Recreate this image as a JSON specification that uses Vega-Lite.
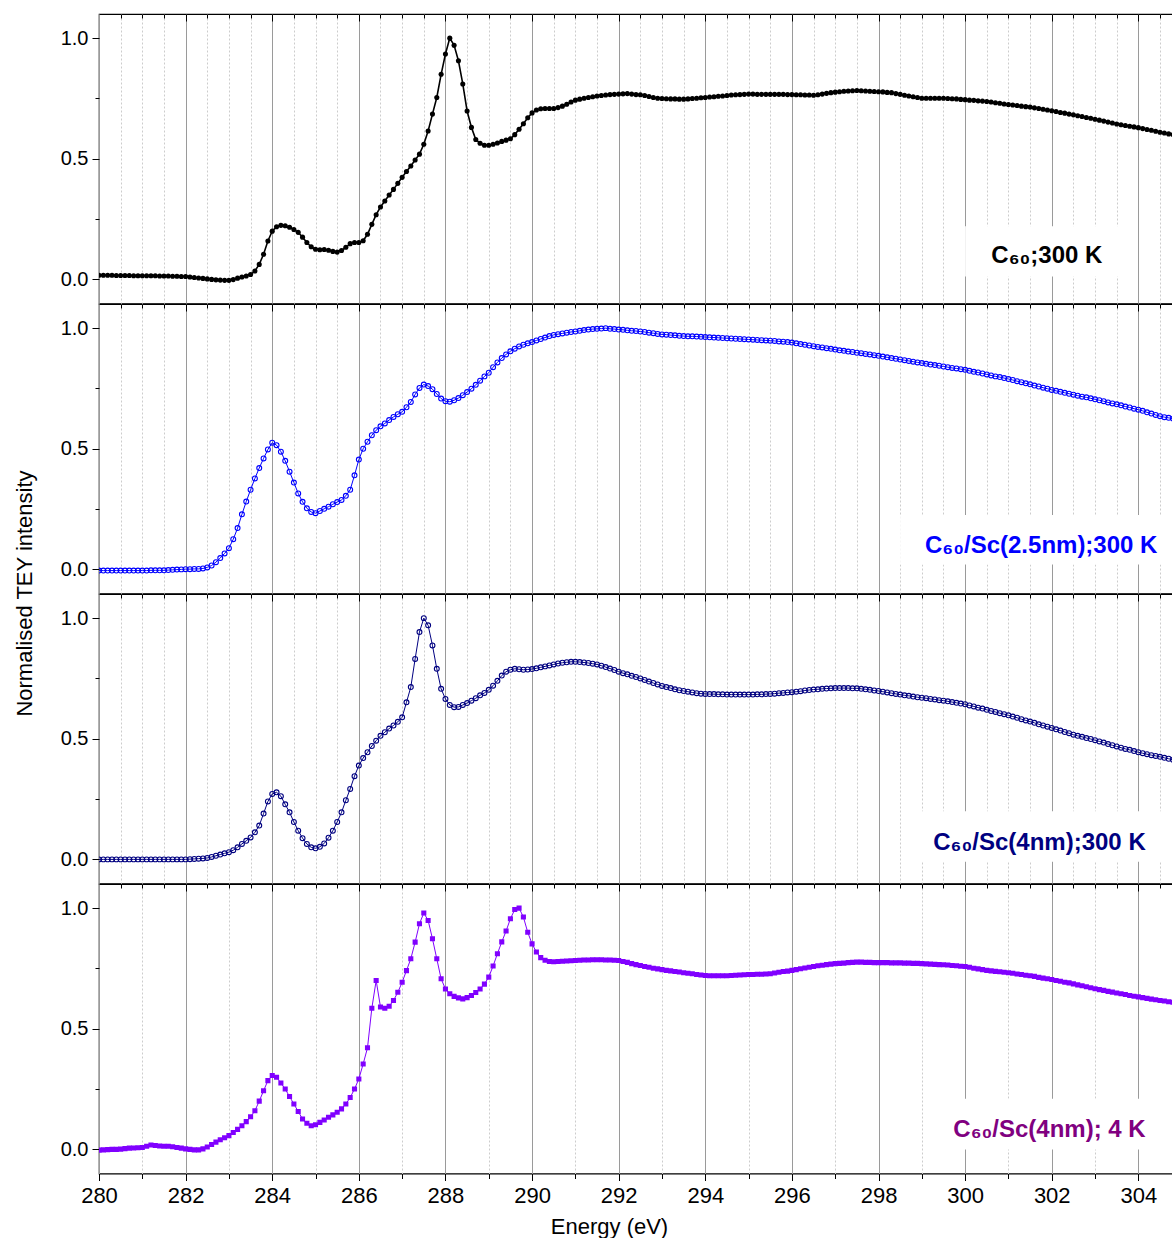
{
"$schema": "https://vega.github.io/schema/vega-lite/v6.json",
"background": "white",
"padding": {"left": 12, "top": 12, "right": 0, "bottom": 0},
"bounds": "flush",
"spacing": 0,
"config": {
  "font": "Liberation Sans",
  "view": {"stroke": "black", "strokeWidth": 1.2},
  "axis": {"labelFont": "Liberation Sans", "titleFont": "Liberation Sans", "labelColor": "black", "titleColor": "black", "titleFontWeight": "normal", "tickColor": "black"}
},
"data": {"values": [
{"e":280.0,"a":0.017,"b":-0.005,"c":0,"d":-0.003},
{"e":280.1,"a":0.017,"b":-0.005,"c":0,"d":-0.002},
{"e":280.2,"a":0.017,"b":-0.005,"c":0,"d":-0.001},
{"e":280.3,"a":0.017,"b":-0.005,"c":0,"d":0},
{"e":280.4,"a":0.016,"b":-0.005,"c":0,"d":0},
{"e":280.5,"a":0.016,"b":-0.005,"c":0,"d":0.001},
{"e":280.6,"a":0.016,"b":-0.005,"c":0,"d":0.003},
{"e":280.7,"a":0.016,"b":-0.005,"c":0,"d":0.005},
{"e":280.8,"a":0.015,"b":-0.005,"c":0,"d":0.006},
{"e":280.9,"a":0.015,"b":-0.005,"c":0,"d":0.007},
{"e":281.0,"a":0.015,"b":-0.005,"c":0,"d":0.008},
{"e":281.1,"a":0.015,"b":-0.005,"c":0,"d":0.013},
{"e":281.2,"a":0.015,"b":-0.004,"c":0,"d":0.018},
{"e":281.3,"a":0.015,"b":-0.004,"c":0,"d":0.016},
{"e":281.4,"a":0.014,"b":-0.004,"c":0,"d":0.014},
{"e":281.5,"a":0.014,"b":-0.004,"c":0,"d":0.013},
{"e":281.6,"a":0.014,"b":-0.003,"c":0,"d":0.013},
{"e":281.7,"a":0.013,"b":-0.002,"c":0,"d":0.011},
{"e":281.8,"a":0.013,"b":-0.001,"c":0,"d":0.008},
{"e":281.9,"a":0.012,"b":0,"c":0,"d":0.005},
{"e":282.0,"a":0.012,"b":0.001,"c":0,"d":0.002},
{"e":282.1,"a":0.010,"b":0.001,"c":0.001,"d":0},
{"e":282.2,"a":0.008,"b":0.002,"c":0.002,"d":-0.002},
{"e":282.3,"a":0.006,"b":0.002,"c":0.003,"d":-0.002},
{"e":282.4,"a":0.004,"b":0.004,"c":0.004,"d":0.002},
{"e":282.5,"a":0.002,"b":0.008,"c":0.006,"d":0.010},
{"e":282.6,"a":0.000,"b":0.016,"c":0.010,"d":0.020},
{"e":282.7,"a":-0.002,"b":0.030,"c":0.015,"d":0.030},
{"e":282.8,"a":-0.003,"b":0.047,"c":0.020,"d":0.040},
{"e":282.9,"a":-0.004,"b":0.066,"c":0.025,"d":0.048},
{"e":283.0,"a":-0.004,"b":0.088,"c":0.030,"d":0.057},
{"e":283.1,"a":-0.001,"b":0.125,"c":0.038,"d":0.070},
{"e":283.2,"a":0.005,"b":0.171,"c":0.050,"d":0.083},
{"e":283.3,"a":0.010,"b":0.228,"c":0.064,"d":0.098},
{"e":283.4,"a":0.014,"b":0.281,"c":0.077,"d":0.115},
{"e":283.5,"a":0.020,"b":0.330,"c":0.091,"d":0.135},
{"e":283.6,"a":0.035,"b":0.377,"c":0.112,"d":0.160},
{"e":283.7,"a":0.062,"b":0.420,"c":0.140,"d":0.200},
{"e":283.8,"a":0.104,"b":0.460,"c":0.190,"d":0.243},
{"e":283.9,"a":0.159,"b":0.497,"c":0.240,"d":0.285},
{"e":284.0,"a":0.200,"b":0.525,"c":0.271,"d":0.306},
{"e":284.1,"a":0.218,"b":0.515,"c":0.278,"d":0.299},
{"e":284.2,"a":0.224,"b":0.488,"c":0.262,"d":0.275},
{"e":284.3,"a":0.222,"b":0.450,"c":0.228,"d":0.250},
{"e":284.4,"a":0.216,"b":0.405,"c":0.195,"d":0.219},
{"e":284.5,"a":0.207,"b":0.360,"c":0.155,"d":0.188},
{"e":284.6,"a":0.195,"b":0.315,"c":0.119,"d":0.157},
{"e":284.7,"a":0.175,"b":0.280,"c":0.088,"d":0.126},
{"e":284.8,"a":0.153,"b":0.253,"c":0.064,"d":0.108},
{"e":284.9,"a":0.135,"b":0.238,"c":0.050,"d":0.098},
{"e":285.0,"a":0.125,"b":0.233,"c":0.046,"d":0.102},
{"e":285.1,"a":0.123,"b":0.242,"c":0.052,"d":0.112},
{"e":285.2,"a":0.124,"b":0.251,"c":0.066,"d":0.122},
{"e":285.3,"a":0.121,"b":0.260,"c":0.090,"d":0.133},
{"e":285.4,"a":0.116,"b":0.270,"c":0.119,"d":0.143},
{"e":285.5,"a":0.113,"b":0.279,"c":0.155,"d":0.154},
{"e":285.6,"a":0.120,"b":0.288,"c":0.195,"d":0.168},
{"e":285.7,"a":0.133,"b":0.305,"c":0.245,"d":0.188},
{"e":285.8,"a":0.148,"b":0.330,"c":0.292,"d":0.215},
{"e":285.9,"a":0.153,"b":0.390,"c":0.345,"d":0.250},
{"e":286.0,"a":0.153,"b":0.455,"c":0.389,"d":0.292},
{"e":286.1,"a":0.160,"b":0.500,"c":0.420,"d":0.354},
{"e":286.2,"a":0.187,"b":0.529,"c":0.444,"d":0.421},
{"e":286.3,"a":0.228,"b":0.556,"c":0.470,"d":0.585},
{"e":286.4,"a":0.268,"b":0.577,"c":0.492,"d":0.700},
{"e":286.5,"a":0.300,"b":0.593,"c":0.512,"d":0.590},
{"e":286.6,"a":0.325,"b":0.605,"c":0.527,"d":0.585},
{"e":286.7,"a":0.350,"b":0.619,"c":0.542,"d":0.593},
{"e":286.8,"a":0.373,"b":0.632,"c":0.555,"d":0.617},
{"e":286.9,"a":0.398,"b":0.643,"c":0.570,"d":0.651},
{"e":287.0,"a":0.423,"b":0.653,"c":0.589,"d":0.693},
{"e":287.1,"a":0.447,"b":0.672,"c":0.651,"d":0.741},
{"e":287.2,"a":0.470,"b":0.694,"c":0.714,"d":0.790},
{"e":287.3,"a":0.495,"b":0.725,"c":0.831,"d":0.859},
{"e":287.4,"a":0.519,"b":0.752,"c":0.942,"d":0.935},
{"e":287.5,"a":0.560,"b":0.766,"c":1.000,"d":0.980},
{"e":287.6,"a":0.615,"b":0.760,"c":0.970,"d":0.949},
{"e":287.7,"a":0.685,"b":0.747,"c":0.887,"d":0.873},
{"e":287.8,"a":0.754,"b":0.727,"c":0.790,"d":0.790},
{"e":287.9,"a":0.850,"b":0.708,"c":0.707,"d":0.707},
{"e":288.0,"a":0.934,"b":0.697,"c":0.665,"d":0.665},
{"e":288.1,"a":1.000,"b":0.695,"c":0.640,"d":0.645},
{"e":288.2,"a":0.970,"b":0.701,"c":0.631,"d":0.634},
{"e":288.3,"a":0.906,"b":0.710,"c":0.632,"d":0.628},
{"e":288.4,"a":0.810,"b":0.722,"c":0.640,"d":0.624},
{"e":288.5,"a":0.698,"b":0.735,"c":0.648,"d":0.629},
{"e":288.6,"a":0.630,"b":0.749,"c":0.658,"d":0.638},
{"e":288.7,"a":0.580,"b":0.765,"c":0.668,"d":0.650},
{"e":288.8,"a":0.564,"b":0.782,"c":0.680,"d":0.665},
{"e":288.9,"a":0.556,"b":0.800,"c":0.690,"d":0.685},
{"e":289.0,"a":0.556,"b":0.815,"c":0.703,"d":0.714},
{"e":289.1,"a":0.560,"b":0.838,"c":0.720,"d":0.760},
{"e":289.2,"a":0.565,"b":0.858,"c":0.740,"d":0.811},
{"e":289.3,"a":0.572,"b":0.876,"c":0.762,"d":0.860},
{"e":289.4,"a":0.577,"b":0.891,"c":0.778,"d":0.905},
{"e":289.5,"a":0.583,"b":0.904,"c":0.786,"d":0.956},
{"e":289.6,"a":0.600,"b":0.915,"c":0.790,"d":0.994},
{"e":289.7,"a":0.622,"b":0.924,"c":0.788,"d":1.000},
{"e":289.8,"a":0.645,"b":0.931,"c":0.786,"d":0.963},
{"e":289.9,"a":0.670,"b":0.937,"c":0.787,"d":0.900},
{"e":290.0,"a":0.690,"b":0.942,"c":0.789,"d":0.852},
{"e":290.1,"a":0.702,"b":0.949,"c":0.792,"d":0.818},
{"e":290.2,"a":0.707,"b":0.955,"c":0.796,"d":0.795},
{"e":290.3,"a":0.708,"b":0.961,"c":0.800,"d":0.784},
{"e":290.4,"a":0.708,"b":0.967,"c":0.804,"d":0.779},
{"e":290.5,"a":0.708,"b":0.972,"c":0.808,"d":0.778},
{"e":290.6,"a":0.712,"b":0.975,"c":0.812,"d":0.779},
{"e":290.7,"a":0.718,"b":0.978,"c":0.815,"d":0.780},
{"e":290.8,"a":0.726,"b":0.981,"c":0.817,"d":0.781},
{"e":290.9,"a":0.735,"b":0.984,"c":0.819,"d":0.782},
{"e":291.0,"a":0.743,"b":0.986,"c":0.819,"d":0.783},
{"e":291.1,"a":0.747,"b":0.989,"c":0.818,"d":0.784},
{"e":291.2,"a":0.751,"b":0.992,"c":0.816,"d":0.785},
{"e":291.3,"a":0.754,"b":0.994,"c":0.814,"d":0.785},
{"e":291.4,"a":0.757,"b":0.996,"c":0.811,"d":0.786},
{"e":291.5,"a":0.760,"b":0.997,"c":0.808,"d":0.786},
{"e":291.6,"a":0.762,"b":0.998,"c":0.803,"d":0.786},
{"e":291.7,"a":0.764,"b":1.000,"c":0.797,"d":0.785},
{"e":291.8,"a":0.766,"b":0.997,"c":0.791,"d":0.785},
{"e":291.9,"a":0.767,"b":0.996,"c":0.785,"d":0.784},
{"e":292.0,"a":0.768,"b":0.994,"c":0.778,"d":0.783},
{"e":292.1,"a":0.769,"b":0.993,"c":0.772,"d":0.779},
{"e":292.2,"a":0.770,"b":0.991,"c":0.767,"d":0.775},
{"e":292.3,"a":0.768,"b":0.989,"c":0.761,"d":0.770},
{"e":292.4,"a":0.766,"b":0.988,"c":0.756,"d":0.766},
{"e":292.5,"a":0.765,"b":0.986,"c":0.750,"d":0.762},
{"e":292.6,"a":0.762,"b":0.984,"c":0.744,"d":0.758},
{"e":292.7,"a":0.758,"b":0.981,"c":0.737,"d":0.755},
{"e":292.8,"a":0.754,"b":0.979,"c":0.731,"d":0.751},
{"e":292.9,"a":0.751,"b":0.976,"c":0.725,"d":0.748},
{"e":293.0,"a":0.750,"b":0.974,"c":0.719,"d":0.745},
{"e":293.1,"a":0.749,"b":0.973,"c":0.714,"d":0.742},
{"e":293.2,"a":0.748,"b":0.971,"c":0.710,"d":0.740},
{"e":293.3,"a":0.748,"b":0.970,"c":0.705,"d":0.737},
{"e":293.4,"a":0.747,"b":0.968,"c":0.701,"d":0.735},
{"e":293.5,"a":0.747,"b":0.967,"c":0.698,"d":0.732},
{"e":293.6,"a":0.748,"b":0.966,"c":0.695,"d":0.730},
{"e":293.7,"a":0.750,"b":0.966,"c":0.692,"d":0.728},
{"e":293.8,"a":0.751,"b":0.965,"c":0.689,"d":0.725},
{"e":293.9,"a":0.753,"b":0.964,"c":0.687,"d":0.723},
{"e":294.0,"a":0.754,"b":0.963,"c":0.686,"d":0.721},
{"e":294.1,"a":0.756,"b":0.962,"c":0.685,"d":0.720},
{"e":294.2,"a":0.757,"b":0.961,"c":0.685,"d":0.720},
{"e":294.3,"a":0.759,"b":0.960,"c":0.684,"d":0.720},
{"e":294.4,"a":0.760,"b":0.959,"c":0.684,"d":0.720},
{"e":294.5,"a":0.762,"b":0.958,"c":0.683,"d":0.720},
{"e":294.6,"a":0.764,"b":0.957,"c":0.683,"d":0.721},
{"e":294.7,"a":0.765,"b":0.956,"c":0.683,"d":0.722},
{"e":294.8,"a":0.766,"b":0.955,"c":0.683,"d":0.723},
{"e":294.9,"a":0.767,"b":0.954,"c":0.683,"d":0.724},
{"e":295.0,"a":0.768,"b":0.953,"c":0.683,"d":0.725},
{"e":295.1,"a":0.768,"b":0.952,"c":0.683,"d":0.725},
{"e":295.2,"a":0.767,"b":0.951,"c":0.684,"d":0.726},
{"e":295.3,"a":0.767,"b":0.950,"c":0.684,"d":0.726},
{"e":295.4,"a":0.767,"b":0.949,"c":0.685,"d":0.727},
{"e":295.5,"a":0.767,"b":0.948,"c":0.686,"d":0.728},
{"e":295.6,"a":0.767,"b":0.947,"c":0.687,"d":0.731},
{"e":295.7,"a":0.767,"b":0.945,"c":0.689,"d":0.734},
{"e":295.8,"a":0.767,"b":0.944,"c":0.690,"d":0.737},
{"e":295.9,"a":0.766,"b":0.942,"c":0.692,"d":0.739},
{"e":296.0,"a":0.766,"b":0.940,"c":0.693,"d":0.742},
{"e":296.1,"a":0.765,"b":0.937,"c":0.695,"d":0.745},
{"e":296.2,"a":0.765,"b":0.934,"c":0.697,"d":0.749},
{"e":296.3,"a":0.764,"b":0.931,"c":0.700,"d":0.752},
{"e":296.4,"a":0.764,"b":0.928,"c":0.702,"d":0.755},
{"e":296.5,"a":0.763,"b":0.925,"c":0.704,"d":0.758},
{"e":296.6,"a":0.765,"b":0.922,"c":0.705,"d":0.761},
{"e":296.7,"a":0.768,"b":0.920,"c":0.707,"d":0.763},
{"e":296.8,"a":0.771,"b":0.917,"c":0.708,"d":0.766},
{"e":296.9,"a":0.774,"b":0.914,"c":0.709,"d":0.768},
{"e":297.0,"a":0.776,"b":0.911,"c":0.710,"d":0.770},
{"e":297.1,"a":0.778,"b":0.908,"c":0.710,"d":0.771},
{"e":297.2,"a":0.780,"b":0.906,"c":0.710,"d":0.772},
{"e":297.3,"a":0.781,"b":0.903,"c":0.710,"d":0.774},
{"e":297.4,"a":0.782,"b":0.901,"c":0.709,"d":0.775},
{"e":297.5,"a":0.783,"b":0.898,"c":0.709,"d":0.776},
{"e":297.6,"a":0.782,"b":0.896,"c":0.707,"d":0.776},
{"e":297.7,"a":0.781,"b":0.893,"c":0.705,"d":0.775},
{"e":297.8,"a":0.780,"b":0.891,"c":0.703,"d":0.775},
{"e":297.9,"a":0.779,"b":0.888,"c":0.700,"d":0.774},
{"e":298.0,"a":0.778,"b":0.885,"c":0.698,"d":0.774},
{"e":298.1,"a":0.777,"b":0.882,"c":0.695,"d":0.774},
{"e":298.2,"a":0.775,"b":0.879,"c":0.692,"d":0.774},
{"e":298.3,"a":0.774,"b":0.876,"c":0.689,"d":0.773},
{"e":298.4,"a":0.770,"b":0.873,"c":0.686,"d":0.773},
{"e":298.5,"a":0.767,"b":0.870,"c":0.683,"d":0.773},
{"e":298.6,"a":0.763,"b":0.867,"c":0.680,"d":0.772},
{"e":298.7,"a":0.760,"b":0.864,"c":0.678,"d":0.772},
{"e":298.8,"a":0.757,"b":0.861,"c":0.675,"d":0.771},
{"e":298.9,"a":0.754,"b":0.858,"c":0.672,"d":0.771},
{"e":299.0,"a":0.751,"b":0.855,"c":0.670,"d":0.770},
{"e":299.1,"a":0.751,"b":0.852,"c":0.668,"d":0.769},
{"e":299.2,"a":0.751,"b":0.849,"c":0.665,"d":0.768},
{"e":299.3,"a":0.751,"b":0.847,"c":0.663,"d":0.767},
{"e":299.4,"a":0.751,"b":0.844,"c":0.660,"d":0.766},
{"e":299.5,"a":0.751,"b":0.841,"c":0.658,"d":0.765},
{"e":299.6,"a":0.750,"b":0.838,"c":0.655,"d":0.764},
{"e":299.7,"a":0.749,"b":0.835,"c":0.652,"d":0.762},
{"e":299.8,"a":0.748,"b":0.833,"c":0.649,"d":0.761},
{"e":299.9,"a":0.746,"b":0.830,"c":0.646,"d":0.759},
{"e":300.0,"a":0.745,"b":0.827,"c":0.643,"d":0.758},
{"e":300.1,"a":0.743,"b":0.823,"c":0.638,"d":0.755},
{"e":300.2,"a":0.742,"b":0.819,"c":0.634,"d":0.751},
{"e":300.3,"a":0.740,"b":0.816,"c":0.629,"d":0.748},
{"e":300.4,"a":0.739,"b":0.812,"c":0.625,"d":0.745},
{"e":300.5,"a":0.737,"b":0.808,"c":0.620,"d":0.742},
{"e":300.6,"a":0.735,"b":0.804,"c":0.615,"d":0.740},
{"e":300.7,"a":0.732,"b":0.800,"c":0.611,"d":0.738},
{"e":300.8,"a":0.730,"b":0.797,"c":0.606,"d":0.736},
{"e":300.9,"a":0.727,"b":0.793,"c":0.602,"d":0.734},
{"e":301.0,"a":0.725,"b":0.789,"c":0.597,"d":0.732},
{"e":301.1,"a":0.723,"b":0.785,"c":0.592,"d":0.730},
{"e":301.2,"a":0.721,"b":0.780,"c":0.587,"d":0.727},
{"e":301.3,"a":0.718,"b":0.776,"c":0.581,"d":0.725},
{"e":301.4,"a":0.716,"b":0.771,"c":0.576,"d":0.722},
{"e":301.5,"a":0.714,"b":0.767,"c":0.571,"d":0.720},
{"e":301.6,"a":0.711,"b":0.762,"c":0.566,"d":0.717},
{"e":301.7,"a":0.708,"b":0.758,"c":0.560,"d":0.713},
{"e":301.8,"a":0.705,"b":0.753,"c":0.555,"d":0.710},
{"e":301.9,"a":0.702,"b":0.749,"c":0.550,"d":0.707},
{"e":302.0,"a":0.699,"b":0.744,"c":0.545,"d":0.704},
{"e":302.1,"a":0.696,"b":0.740,"c":0.539,"d":0.700},
{"e":302.2,"a":0.692,"b":0.736,"c":0.534,"d":0.697},
{"e":302.3,"a":0.689,"b":0.732,"c":0.528,"d":0.693},
{"e":302.4,"a":0.685,"b":0.728,"c":0.523,"d":0.690},
{"e":302.5,"a":0.682,"b":0.724,"c":0.517,"d":0.686},
{"e":302.6,"a":0.678,"b":0.720,"c":0.512,"d":0.682},
{"e":302.7,"a":0.675,"b":0.716,"c":0.508,"d":0.678},
{"e":302.8,"a":0.671,"b":0.713,"c":0.503,"d":0.674},
{"e":302.9,"a":0.668,"b":0.709,"c":0.499,"d":0.670},
{"e":303.0,"a":0.664,"b":0.705,"c":0.494,"d":0.666},
{"e":303.1,"a":0.660,"b":0.701,"c":0.489,"d":0.662},
{"e":303.2,"a":0.656,"b":0.697,"c":0.484,"d":0.659},
{"e":303.3,"a":0.652,"b":0.692,"c":0.478,"d":0.655},
{"e":303.4,"a":0.648,"b":0.688,"c":0.473,"d":0.652},
{"e":303.5,"a":0.644,"b":0.684,"c":0.468,"d":0.648},
{"e":303.6,"a":0.641,"b":0.680,"c":0.463,"d":0.645},
{"e":303.7,"a":0.638,"b":0.675,"c":0.458,"d":0.642},
{"e":303.8,"a":0.635,"b":0.671,"c":0.454,"d":0.638},
{"e":303.9,"a":0.632,"b":0.666,"c":0.449,"d":0.635},
{"e":304.0,"a":0.629,"b":0.662,"c":0.444,"d":0.632},
{"e":304.1,"a":0.625,"b":0.657,"c":0.440,"d":0.629},
{"e":304.2,"a":0.621,"b":0.651,"c":0.436,"d":0.626},
{"e":304.3,"a":0.618,"b":0.646,"c":0.432,"d":0.623},
{"e":304.4,"a":0.614,"b":0.640,"c":0.429,"d":0.620},
{"e":304.5,"a":0.610,"b":0.635,"c":0.425,"d":0.617},
{"e":304.6,"a":0.607,"b":0.631,"c":0.421,"d":0.615},
{"e":304.7,"a":0.603,"b":0.628,"c":0.417,"d":0.612},
{"e":304.8,"a":0.600,"b":0.625,"c":0.413,"d":0.610}
]},
"vconcat": [
{
  "width": 1074, "height": 289.5,
  "resolve": {"axis": {"x": "independent"}},
  "layer": [
    {"data": {"values": [{}]}, "mark": {"type": "rect", "color": "white"},
     "encoding": {"x": {"datum": 300.0, "type": "quantitative", "axis": null}, "x2": {"datum": 303.6}, "y": {"datum": 0.012, "type": "quantitative"}, "y2": {"datum": 0.22}}},
    {"mark": {"type": "line", "color": "black", "strokeWidth": 1.6, "clip": true},
     "encoding": {
       "x": {"field": "e", "type": "quantitative", "scale": {"domain": [280, 304.8], "nice": false, "zero": false},
             "axis": {"orient": "bottom", "values": [280,280.5,281,281.5,282,282.5,283,283.5,284,284.5,285,285.5,286,286.5,287,287.5,288,288.5,289,289.5,290,290.5,291,291.5,292,292.5,293,293.5,294,294.5,295,295.5,296,296.5,297,297.5,298,298.5,299,299.5,300,300.5,301,301.5,302,302.5,303,303.5,304,304.5],
                      "grid": true, "gridColor": {"condition": {"test": "datum.value % 2 === 0", "value": "#9a9a9a"}, "value": "#cccccc"},
                      "gridDash": {"condition": {"test": "datum.value % 2 === 0", "value": []}, "value": [2, 2]},
                      "ticks": false, "labels": false, "domain": false, "title": null}},
       "y": {"field": "a", "type": "quantitative", "scale": {"domain": [-0.1, 1.1], "nice": false, "zero": false},
             "axis": {"orient": "left", "values": [0, 0.25, 0.5, 0.75, 1], "format": ".1f", "labelExpr": "datum.value * 4 % 2 === 0 ? datum.label : ''",
                      "tickSize": {"condition": {"test": "datum.value * 4 % 2 === 0", "value": 7}, "value": 4},
                      "labelPadding": 4, "labelFontSize": 20, "grid": false, "domain": false, "title": null}}
     }},
    {"mark": {"type": "point", "shape": "circle", "filled": true, "color": "black", "size": 26, "opacity": 1, "clip": true},
     "encoding": {
       "x": {"field": "e", "type": "quantitative",
             "axis": {"orient": "top", "values": [280.5,281,281.5,282,282.5,283,283.5,284,284.5,285,285.5,286,286.5,287,287.5,288,288.5,289,289.5,290,290.5,291,291.5,292,292.5,293,293.5,294,294.5,295,295.5,296,296.5,297,297.5,298,298.5,299,299.5,300,300.5,301,301.5,302,302.5,303,303.5,304,304.5],
                      "grid": false, "domain": false, "labels": false, "ticks": true,
                      "tickSize": {"condition": {"test": "datum.value % 2 === 0", "value": -7}, "value": -4}, "title": null}},
       "y": {"field": "a", "type": "quantitative"}
     }},
    {"data": {"values": [{}]}, "mark": {"type": "text", "text": "C₆₀;300 K", "align": "right", "baseline": "alphabetic", "fontSize": 24, "fontWeight": "bold", "color": "black"},
     "encoding": {"x": {"datum": 303.17, "type": "quantitative", "axis": null}, "y": {"datum": 0.066, "type": "quantitative"}}}
  ]
},
{
  "width": 1074, "height": 289.5,
  "resolve": {"axis": {"x": "independent"}},
  "layer": [
    {"data": {"values": [{}]}, "mark": {"type": "rect", "color": "white"},
     "encoding": {"x": {"datum": 298.5, "type": "quantitative", "axis": null}, "x2": {"datum": 304.8}, "y": {"datum": 0.02, "type": "quantitative"}, "y2": {"datum": 0.225}}},
    {"mark": {"type": "line", "color": "#0000ff", "strokeWidth": 1, "clip": true},
     "encoding": {
       "x": {"field": "e", "type": "quantitative", "scale": {"domain": [280, 304.8], "nice": false, "zero": false},
             "axis": {"orient": "bottom", "values": [280,280.5,281,281.5,282,282.5,283,283.5,284,284.5,285,285.5,286,286.5,287,287.5,288,288.5,289,289.5,290,290.5,291,291.5,292,292.5,293,293.5,294,294.5,295,295.5,296,296.5,297,297.5,298,298.5,299,299.5,300,300.5,301,301.5,302,302.5,303,303.5,304,304.5],
                      "grid": true, "gridColor": {"condition": {"test": "datum.value % 2 === 0", "value": "#9a9a9a"}, "value": "#cccccc"},
                      "gridDash": {"condition": {"test": "datum.value % 2 === 0", "value": []}, "value": [2, 2]},
                      "ticks": false, "labels": false, "domain": false, "title": null}},
       "y": {"field": "b", "type": "quantitative", "scale": {"domain": [-0.1, 1.1], "nice": false, "zero": false},
             "axis": {"orient": "left", "values": [0, 0.25, 0.5, 0.75, 1], "format": ".1f", "labelExpr": "datum.value * 4 % 2 === 0 ? datum.label : ''",
                      "tickSize": {"condition": {"test": "datum.value * 4 % 2 === 0", "value": 7}, "value": 4},
                      "labelPadding": 4, "labelFontSize": 20, "grid": false, "domain": false, "title": null}}
     }},
    {"mark": {"type": "point", "shape": "circle", "filled": false, "color": "#0000ff", "strokeWidth": 1.1, "size": 24, "opacity": 1, "clip": true},
     "encoding": {
       "x": {"field": "e", "type": "quantitative",
             "axis": {"orient": "top", "values": [280.5,281,281.5,282,282.5,283,283.5,284,284.5,285,285.5,286,286.5,287,287.5,288,288.5,289,289.5,290,290.5,291,291.5,292,292.5,293,293.5,294,294.5,295,295.5,296,296.5,297,297.5,298,298.5,299,299.5,300,300.5,301,301.5,302,302.5,303,303.5,304,304.5],
                      "grid": false, "domain": false, "labels": false, "ticks": true,
                      "tickSize": {"condition": {"test": "datum.value % 2 === 0", "value": -7}, "value": -4}, "title": null}},
       "y": {"field": "b", "type": "quantitative"}
     }},
    {"data": {"values": [{}]}, "mark": {"type": "text", "text": "C₆₀/Sc(2.5nm);300 K", "align": "right", "baseline": "alphabetic", "fontSize": 24, "fontWeight": "bold", "color": "#0000ff"},
     "encoding": {"x": {"datum": 304.44, "type": "quantitative", "axis": null}, "y": {"datum": 0.066, "type": "quantitative"}}}
  ]
},
{
  "width": 1074, "height": 289.5,
  "resolve": {"axis": {"x": "independent"}},
  "layer": [
    {"data": {"values": [{}]}, "mark": {"type": "rect", "color": "white"},
     "encoding": {"x": {"datum": 298.8, "type": "quantitative", "axis": null}, "x2": {"datum": 304.6}, "y": {"datum": -0.01, "type": "quantitative"}, "y2": {"datum": 0.2}}},
    {"mark": {"type": "line", "color": "#000080", "strokeWidth": 1, "clip": true},
     "encoding": {
       "x": {"field": "e", "type": "quantitative", "scale": {"domain": [280, 304.8], "nice": false, "zero": false},
             "axis": {"orient": "bottom", "values": [280,280.5,281,281.5,282,282.5,283,283.5,284,284.5,285,285.5,286,286.5,287,287.5,288,288.5,289,289.5,290,290.5,291,291.5,292,292.5,293,293.5,294,294.5,295,295.5,296,296.5,297,297.5,298,298.5,299,299.5,300,300.5,301,301.5,302,302.5,303,303.5,304,304.5],
                      "grid": true, "gridColor": {"condition": {"test": "datum.value % 2 === 0", "value": "#9a9a9a"}, "value": "#cccccc"},
                      "gridDash": {"condition": {"test": "datum.value % 2 === 0", "value": []}, "value": [2, 2]},
                      "ticks": false, "labels": false, "domain": false, "title": null}},
       "y": {"field": "c", "type": "quantitative", "scale": {"domain": [-0.1, 1.1], "nice": false, "zero": false},
             "axis": {"orient": "left", "values": [0, 0.25, 0.5, 0.75, 1], "format": ".1f", "labelExpr": "datum.value * 4 % 2 === 0 ? datum.label : ''",
                      "tickSize": {"condition": {"test": "datum.value * 4 % 2 === 0", "value": 7}, "value": 4},
                      "labelPadding": 4, "labelFontSize": 20, "grid": false, "domain": false,
                      "title": "Normalised TEY intensity", "titleFontSize": 22, "titleX": -75, "titleY": -1, "titleAngle": 270, "titleAlign": "center", "titleBaseline": "middle"}}
     }},
    {"mark": {"type": "point", "shape": "circle", "filled": false, "color": "#000080", "strokeWidth": 1.1, "size": 24, "opacity": 1, "clip": true},
     "encoding": {
       "x": {"field": "e", "type": "quantitative",
             "axis": {"orient": "top", "values": [280.5,281,281.5,282,282.5,283,283.5,284,284.5,285,285.5,286,286.5,287,287.5,288,288.5,289,289.5,290,290.5,291,291.5,292,292.5,293,293.5,294,294.5,295,295.5,296,296.5,297,297.5,298,298.5,299,299.5,300,300.5,301,301.5,302,302.5,303,303.5,304,304.5],
                      "grid": false, "domain": false, "labels": false, "ticks": true,
                      "tickSize": {"condition": {"test": "datum.value % 2 === 0", "value": -7}, "value": -4}, "title": null}},
       "y": {"field": "c", "type": "quantitative"}
     }},
    {"data": {"values": [{}]}, "mark": {"type": "text", "text": "C₆₀/Sc(4nm);300 K", "align": "right", "baseline": "alphabetic", "fontSize": 24, "fontWeight": "bold", "color": "#000080"},
     "encoding": {"x": {"datum": 304.17, "type": "quantitative", "axis": null}, "y": {"datum": 0.04, "type": "quantitative"}}}
  ]
},
{
  "width": 1074, "height": 289.5,
  "resolve": {"axis": {"x": "independent"}},
  "layer": [
    {"data": {"values": [{}]}, "mark": {"type": "rect", "color": "white"},
     "encoding": {"x": {"datum": 299.2, "type": "quantitative", "axis": null}, "x2": {"datum": 304.6}, "y": {"datum": 0.0, "type": "quantitative"}, "y2": {"datum": 0.21}}},
    {"mark": {"type": "line", "color": "#8000ff", "strokeWidth": 1, "clip": true},
     "encoding": {
       "x": {"field": "e", "type": "quantitative", "scale": {"domain": [280, 304.8], "nice": false, "zero": false},
             "axis": {"orient": "bottom", "values": [280,280.5,281,281.5,282,282.5,283,283.5,284,284.5,285,285.5,286,286.5,287,287.5,288,288.5,289,289.5,290,290.5,291,291.5,292,292.5,293,293.5,294,294.5,295,295.5,296,296.5,297,297.5,298,298.5,299,299.5,300,300.5,301,301.5,302,302.5,303,303.5,304,304.5],
                      "grid": true, "gridColor": {"condition": {"test": "datum.value % 2 === 0", "value": "#9a9a9a"}, "value": "#cccccc"},
                      "gridDash": {"condition": {"test": "datum.value % 2 === 0", "value": []}, "value": [2, 2]},
                      "ticks": true, "tickSize": {"condition": {"test": "datum.value % 2 === 0", "value": 7}, "value": 5},
                      "labels": true, "format": "d", "labelExpr": "datum.value % 2 === 0 ? datum.label : ''", "labelFontSize": 22, "labelPadding": 5,
                      "labelFlush": false, "labelOverlap": false, "labelBound": false, "domain": false,
                      "title": "Energy (eV)", "titleFontSize": 22, "titleX": 510, "titleY": 60, "titleAlign": "center", "titleBaseline": "alphabetic"}},
       "y": {"field": "d", "type": "quantitative", "scale": {"domain": [-0.1, 1.1], "nice": false, "zero": false},
             "axis": {"orient": "left", "values": [0, 0.25, 0.5, 0.75, 1], "format": ".1f", "labelExpr": "datum.value * 4 % 2 === 0 ? datum.label : ''",
                      "tickSize": {"condition": {"test": "datum.value * 4 % 2 === 0", "value": 7}, "value": 4},
                      "labelPadding": 4, "labelFontSize": 20, "grid": false, "domain": false, "title": null}}
     }},
    {"mark": {"type": "point", "shape": "square", "filled": true, "color": "#8000ff", "size": 26, "opacity": 1, "clip": true},
     "encoding": {
       "x": {"field": "e", "type": "quantitative",
             "axis": {"orient": "top", "values": [280.5,281,281.5,282,282.5,283,283.5,284,284.5,285,285.5,286,286.5,287,287.5,288,288.5,289,289.5,290,290.5,291,291.5,292,292.5,293,293.5,294,294.5,295,295.5,296,296.5,297,297.5,298,298.5,299,299.5,300,300.5,301,301.5,302,302.5,303,303.5,304,304.5],
                      "grid": false, "domain": false, "labels": false, "ticks": true,
                      "tickSize": {"condition": {"test": "datum.value % 2 === 0", "value": -7}, "value": -4}, "title": null}},
       "y": {"field": "d", "type": "quantitative"}
     }},
    {"data": {"values": [{}]}, "mark": {"type": "text", "text": "C₆₀/Sc(4nm); 4 K", "align": "right", "baseline": "alphabetic", "fontSize": 24, "fontWeight": "bold", "color": "#800080"},
     "encoding": {"x": {"datum": 304.17, "type": "quantitative", "axis": null}, "y": {"datum": 0.05, "type": "quantitative"}}}
  ]
}
]
}
